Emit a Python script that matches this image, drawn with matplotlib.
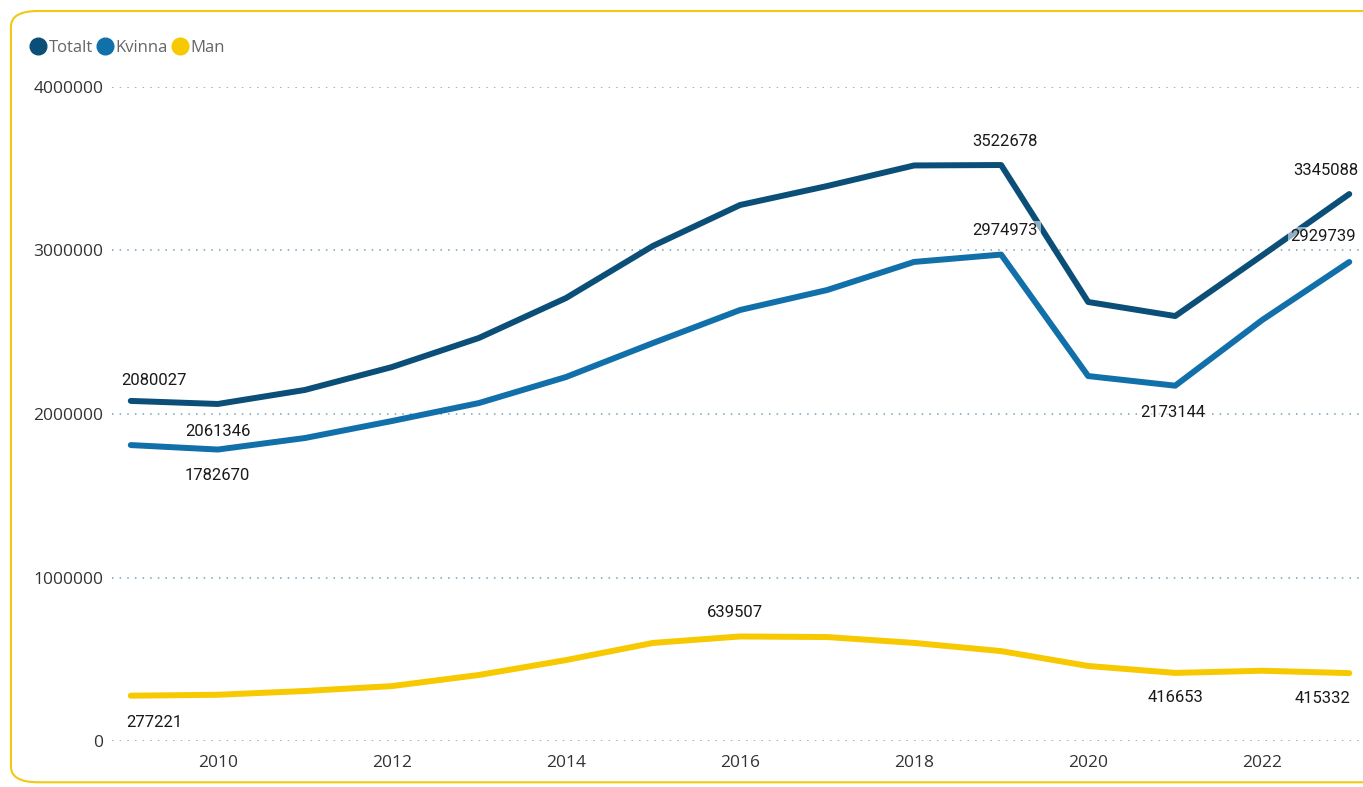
import matplotlib.pyplot as plt
from matplotlib.lines import Line2D
from matplotlib.patches import FancyBboxPatch
from matplotlib.ticker import FuncFormatter

# ── Data ──────────────────────────────────────────────────────────────────────
years = [2009, 2010, 2011, 2012, 2013, 2014, 2015, 2016,
         2017, 2018, 2019, 2020, 2021, 2022, 2023]
totalt = [2080027, 2061346, 2147000, 2287000, 2465000, 2709000, 3028000, 3278000,
          3394000, 3520000, 3522678, 2685000, 2599000, 2970000, 3345088]
kvinna = [1810000, 1782670, 1853000, 1957000, 2067000, 2226000, 2434000, 2636000,
          2758000, 2930000, 2974973, 2232000, 2173144, 2575000, 2929739]
man = [277221, 283000, 306000, 336000, 404000, 495000, 600000, 639507,
       636000, 600000, 550000, 459000, 416653, 430000, 415332]

series_names = ["Totalt", "Kvinna", "Man"]
series_vals = [totalt, kvinna, man]
COLORS = ["#0B4F79", "#1170AA", "#F7C900"]

# which points get a data label, and offset of the label (points)
label_spec = {
    "Totalt": [(2009, (17, 15)), (2010, (0, -20)), (2019, (3, 17)), (2023, (-17, 17))],
    "Kvinna": [(2010, (0, -19)), (2019, (3, 17)), (2021, (-2, -19)), (2023, (-19, 18))],
    "Man":    [(2009, (17, -19)), (2016, (-4, 17)), (2021, (0, -18)), (2023, (-19, -18))],
}

# ── Figure ────────────────────────────────────────────────────────────────────
fig = plt.figure(figsize=(13.63, 7.87), dpi=100)
ax = fig.add_axes([0.082, 0.0584, 0.916, 0.8311])

for name, vals, col in zip(series_names, series_vals, COLORS):
    ax.plot(years, vals, color=col, linewidth=4.3, solid_joinstyle="round",
            solid_capstyle="round", zorder=3, clip_on=False)

for name, vals in zip(series_names, series_vals):
    for yr, off in label_spec[name]:
        v = vals[years.index(yr)]
        ax.annotate(str(v), xy=(yr, v), xytext=off, textcoords="offset points",
                    ha="center", va="center", fontsize=12, color="#1a1a1a",
                    family="Roboto", zorder=5,
                    bbox=dict(boxstyle="square,pad=0.15", fc="white", ec="none", alpha=0.55))

ax.set_xlim(2009 - 19 / 87, 2023 + 11 / 87)
ax.set_ylim(0, 4000000)
ax.set_xticks(range(2010, 2023, 2))
ax.set_yticks(range(0, 4000001, 1000000))
ax.yaxis.set_major_formatter(FuncFormatter(lambda v, p: f"{int(v)}"))
ax.grid(axis="y", color="#4f8aa6", linestyle=(0, (1, 4)), linewidth=1.1, alpha=0.8)
ax.set_axisbelow(True)
for s in ax.spines.values():
    s.set_visible(False)
ax.tick_params(length=0, labelsize=12.5, labelcolor="#333333", pad=6)
ax.tick_params(axis="x", pad=10)
for lab in ax.get_xticklabels() + ax.get_yticklabels():
    lab.set_family("Open Sans")

# ── Legend ────────────────────────────────────────────────────────────────────
handles = [Line2D([], [], marker="o", linestyle="none", markersize=12,
                  markerfacecolor=c, markeredgecolor=c) for c in COLORS]
leg = fig.legend(handles, series_names, loc="upper left", bbox_to_anchor=(0.012, 0.968),
                 ncol=3, frameon=False, handletextpad=0.25, columnspacing=0.3,
                 handlelength=0.8, prop={"family": "Open Sans", "size": 12})
for t in leg.get_texts():
    t.set_color("#666666")

# yellow rounded frame
frame = FancyBboxPatch((0.008, 0.006), 1.2, 0.98, boxstyle="round,pad=0,rounding_size=0.02",
                       transform=fig.transFigure, fill=False, ec="#F2C811", lw=1.5)
fig.patches.append(frame)

fig.savefig("out.png", dpi=100)
